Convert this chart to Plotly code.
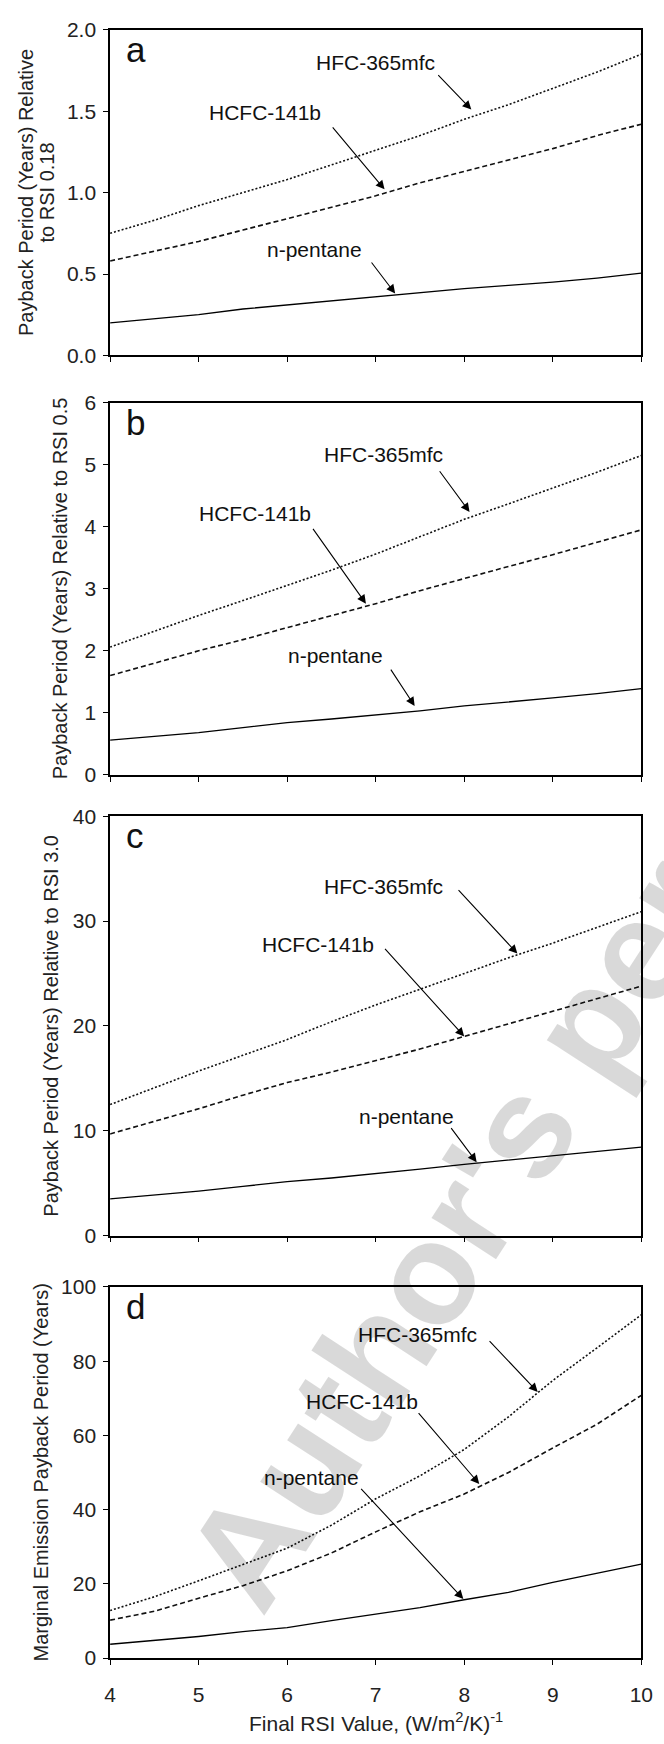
import plotly.graph_objects as go

# ---------------- data ----------------
rsi = [4, 4.5, 5, 5.5, 6, 6.5, 7, 7.5, 8, 8.5, 9, 9.5, 10]

a_pentane = [0.20, 0.225, 0.25, 0.285, 0.31, 0.335, 0.36, 0.385, 0.41, 0.43, 0.45, 0.475, 0.505]
a_hcfc = [0.58, 0.64, 0.70, 0.77, 0.84, 0.91, 0.98, 1.06, 1.13, 1.20, 1.27, 1.35, 1.42]
a_hfc = [0.75, 0.83, 0.92, 1.00, 1.08, 1.17, 1.26, 1.35, 1.45, 1.54, 1.64, 1.74, 1.85]

b_pentane = [0.56, 0.62, 0.68, 0.76, 0.84, 0.90, 0.96, 1.03, 1.11, 1.17, 1.24, 1.31, 1.39]
b_hcfc = [1.60, 1.80, 2.00, 2.18, 2.37, 2.56, 2.76, 2.97, 3.17, 3.36, 3.55, 3.75, 3.95]
b_hfc = [2.06, 2.32, 2.57, 2.81, 3.05, 3.30, 3.56, 3.84, 4.12, 4.37, 4.62, 4.88, 5.15]

c_pentane = [3.5, 3.85, 4.25, 4.7, 5.15, 5.5, 5.9, 6.35, 6.8, 7.2, 7.6, 8.0, 8.45]
c_hcfc = [9.7, 10.9, 12.1, 13.4, 14.6, 15.6, 16.7, 17.8, 19.0, 20.2, 21.4, 22.6, 23.8]
c_hfc = [12.5, 14.1, 15.7, 17.2, 18.7, 20.4, 22.0, 23.5, 25.0, 26.5, 27.9, 29.4, 30.9]

d_pentane = [3.7, 4.7, 5.8, 7.1, 8.2, 10.1, 11.9, 13.6, 15.7, 17.7, 20.4, 22.9, 25.3]
d_hcfc = [10.2, 12.6, 16.1, 19.5, 23.5, 28.3, 34.0, 39.4, 44.2, 50.0, 56.6, 63.0, 70.8]
d_hfc = [12.8, 16.5, 20.8, 25.2, 29.6, 35.8, 42.9, 49.1, 56.2, 65.0, 74.8, 83.6, 92.5]

series_names = ["n-pentane", "HCFC-141b", "HFC-365mfc"]
panel_letters = ["a", "b", "c", "d"]
y_titles = [["Payback Period (Years) Relative", "to RSI 0.18"],
            ["Payback Period (Years) Relative to RSI 0.5"],
            ["Payback Period (Years) Relative to RSI 3.0"],
            ["Marginal Emission Payback Period (Years)"]]
x_title = "Final RSI Value, (W/m<sup>2</sup>/K)<sup>-1</sup>"
x_ticks = [4, 5, 6, 7, 8, 9, 10]

# ---------------- layout helpers ----------------
W, H = 664, 1744
FONT = "Liberation Sans, Arial, Helvetica, sans-serif"


def px(x):
    return x / W


def py(y):
    return 1 - y / H


plot_left, plot_right = 107, 653
panel_px = [(18, 348), (396, 773), (815, 1240), (1292, 1668)]
y_ranges = [(0, 2), (0, 6), (0, 40), (0, 100)]
y_dticks = [0.5, 1, 10, 20]
y_minor = [0.1, 0.5, 2, 5]
y_fmt = [".1f", "d", "d", "d"]
ytitle_x = [[20, 42], [55], [46], [36]]

# label annotations: (text x, text y, tail x, tail y, head x, head y)
label_pos = [
    {"HFC-365mfc": (7.0, 1.80, 7.69, 1.73, 8.08, 1.51),
     "HCFC-141b": (5.75, 1.49, 6.5, 1.41, 7.1, 1.02),
     "n-pentane": (6.31, 0.65, 6.94, 0.58, 7.22, 0.38)},
    {"HFC-365mfc": (7.09, 5.17, 7.71, 4.92, 8.06, 4.24),
     "HCFC-141b": (5.64, 4.21, 6.28, 3.99, 6.89, 2.76),
     "n-pentane": (6.55, 1.92, 7.16, 1.72, 7.44, 1.11)},
    {"HFC-365mfc": (7.09, 33.3, 7.92, 33.1, 8.6, 26.9),
     "HCFC-141b": (6.35, 27.8, 7.09, 27.5, 8.0, 19.0),
     "n-pentane": (7.35, 11.4, 7.84, 10.4, 8.14, 7.0)},
    {"HFC-365mfc": (7.47, 87.2, 8.27, 85.8, 8.83, 71.7),
     "HCFC-141b": (6.85, 69.0, 7.47, 66.4, 8.17, 46.9),
     "n-pentane": (6.27, 48.7, 6.82, 46.0, 7.99, 15.9)},
]

panels = [
    (a_pentane, a_hcfc, a_hfc),
    (b_pentane, b_hcfc, b_hfc),
    (c_pentane, c_hcfc, c_hfc),
    (d_pentane, d_hcfc, d_hfc),
]
styles = [
    dict(color="black", width=1.3, dash="solid"),
    dict(color="#111111", width=1.6, dash="5px,3px"),
    dict(color="#111111", width=1.6, dash="2px,2px"),
]

AX = dict(showgrid=False, zeroline=False)
TICK = dict(tickwidth=1.2, tickcolor="black", ticklen=5)

fig = go.Figure()
layout = {}
for i, vals in enumerate(panels):
    n = i + 1
    sfx = "" if i == 0 else str(n)
    xa, ya = "x" + sfx, "y" + sfx
    for name, v, st in zip(series_names, vals, styles):
        fig.add_trace(go.Scatter(x=rsi, y=v, mode="lines", name=name, line=st,
                                 xaxis=xa, yaxis=ya, showlegend=False))
    top, bot = panel_px[i]
    ydom = [py(bot), py(top)]
    xdom = [px(plot_left), px(plot_right)]
    # main axes
    layout["xaxis" + sfx] = dict(
        domain=xdom, anchor=ya, range=[4, 10], tickvals=x_ticks, ticks="outside",
        showticklabels=(i == 3), showline=True, linecolor="black", linewidth=1.6,
        mirror=True, tickfont=dict(family=FONT, size=21, color="#222"),
        ticklabelstandoff=12, ticklabeloverflow="allow", **TICK, **AX,
    )
    layout["yaxis" + sfx] = dict(
        domain=ydom, anchor=xa, range=list(y_ranges[i]), dtick=y_dticks[i], tick0=0,
        tickformat=y_fmt[i], ticks="outside", showline=True, linecolor="black",
        linewidth=1.6, mirror=True, tickfont=dict(family=FONT, size=21, color="#222"),
        ticklabelstandoff=3, **TICK, **AX,
    )
    # overlay axes providing inward tick marks (bottom, left and right)
    layout["xaxis%d" % (4 + i + 1)] = dict(
        domain=xdom, anchor=ya, overlaying=xa, side="bottom", range=[4, 10],
        dtick=0.5, tick0=4, ticks="inside", showticklabels=False, showline=False, **TICK, **AX,
    )
    layout["yaxis%d" % (4 + i + 1)] = dict(
        domain=ydom, anchor=xa, overlaying=ya, side="left", range=list(y_ranges[i]),
        dtick=y_minor[i], tick0=0, ticks="inside", showticklabels=False, showline=False, **TICK, **AX,
    )
    layout["yaxis%d" % (8 + i + 1)] = dict(
        domain=ydom, anchor=xa, overlaying=ya, side="right", range=list(y_ranges[i]),
        dtick=y_minor[i], tick0=0, ticks="inside", showticklabels=False, showline=False, **TICK, **AX,
    )

annotations = []
for i in range(4):
    sfx = "" if i == 0 else str(i + 1)
    xa, ya = "x" + sfx, "y" + sfx
    top, bot = panel_px[i]
    # panel letter
    annotations.append(dict(text=panel_letters[i], x=px(121), y=py(top + 20), xref="paper", yref="paper",
                            xanchor="left", yanchor="middle", showarrow=False,
                            font=dict(family=FONT, size=35, color="#111")))
    # y title
    for t, xx in zip(y_titles[i], ytitle_x[i]):
        annotations.append(dict(text=t, x=px(xx), y=py((top + bot) / 2),
                                xref="paper", yref="paper", textangle=-90, showarrow=False,
                                xanchor="center", yanchor="middle",
                                font=dict(family=FONT, size=20, color="#222")))
    for name, (tx, ty, axx, ayy, hx, hy) in label_pos[i].items():
        annotations.append(dict(text=name, x=tx, y=ty, xref=xa, yref=ya, showarrow=False,
                                xanchor="center", yanchor="middle",
                                font=dict(family=FONT, size=21, color="#111")))
        annotations.append(dict(text="", x=hx, y=hy, ax=axx, ay=ayy, xref=xa, yref=ya,
                                axref=xa, ayref=ya, showarrow=True, arrowhead=2,
                                arrowsize=1.6, arrowwidth=1.1, arrowcolor="black", standoff=0))

annotations.append(dict(text=x_title, x=px((plot_left + plot_right) / 2), y=py(1733),
                        xref="paper", yref="paper", showarrow=False, xanchor="center", yanchor="middle",
                        font=dict(family=FONT, size=21, color="#222")))

# faint watermark from the source page (semi-transparent so lines stay visible)
annotations.append(dict(text="<b>Author's personal copy</b>", x=px(672), y=py(915), xref="paper", yref="paper",
                        textangle=-57, showarrow=False, xanchor="center", yanchor="middle",
                        font=dict(family=FONT, size=145, color="rgba(0,0,0,0.15)")))

fig.update_layout(
    width=W, height=H, margin=dict(l=0, r=0, t=0, b=0),
    paper_bgcolor="white", plot_bgcolor="rgba(0,0,0,0)",
    annotations=annotations, **layout,
)

fig.write_html("out.html")
